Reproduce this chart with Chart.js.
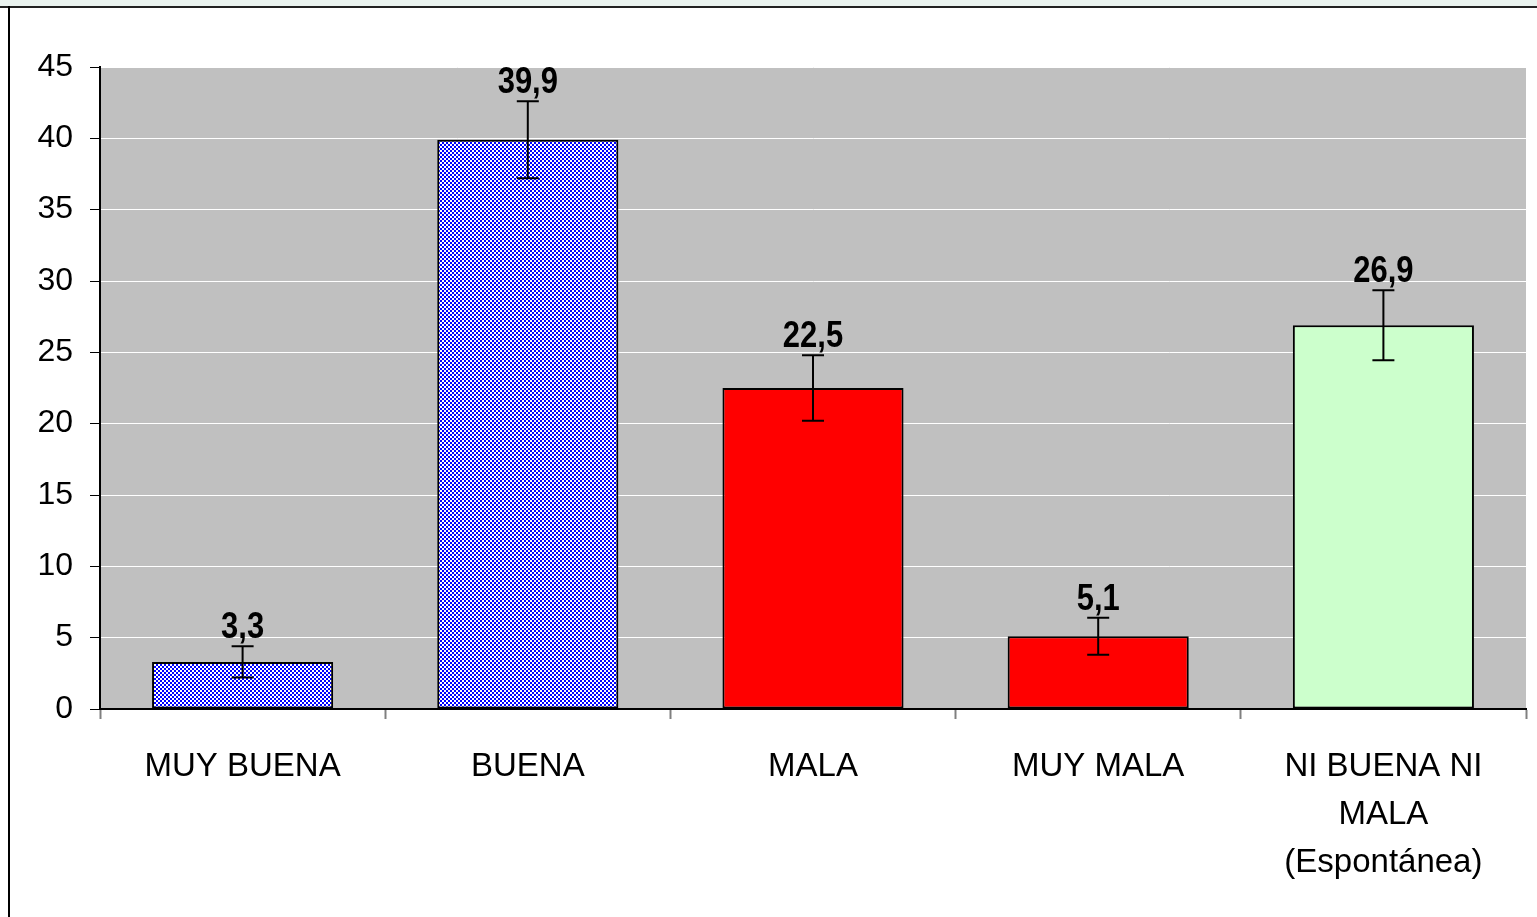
<!DOCTYPE html>
<html>
<head>
<meta charset="utf-8">
<script src="https://cdn.jsdelivr.net/npm/chart.js@4.4.0/dist/chart.umd.min.js"></script>
<style>
  body { margin: 0; background: #fff; }
  #wrap { position: absolute; left: 0; top: 0; width: 1537px; height: 917px; }
</style>
</head>
<body>
<div id="wrap"><canvas id="myChart1" width="1537" height="917"></canvas></div>
<script>
var categories = [['MUY BUENA'], ['BUENA'], ['MALA'], ['MUY MALA'], ['NI BUENA NI', 'MALA', '(Espontánea)']];
var values = [3.3, 39.9, 22.5, 5.1, 26.9];
var errors = [1.1, 2.7, 2.3, 1.3, 2.45];
var valueLabels = ['3,3', '39,9', '22,5', '5,1', '26,9'];
var yTicks = [0, 5, 10, 15, 20, 25, 30, 35, 40, 45];

// checker pattern for the blue bars
function checker() {
    var c = document.createElement('canvas');
    c.width = 4; c.height = 4;
    var g = c.getContext('2d');
    g.fillStyle = '#ffffff';
    g.fillRect(0, 0, 4, 4);
    g.fillStyle = '#0000ff';
    g.fillRect(0, 0, 2, 2);
    g.fillRect(2, 2, 2, 2);
    return document.getElementById('myChart1').getContext('2d').createPattern(c, 'repeat');
}
var blue = checker();
var colors = [blue, blue, '#ff0000', '#ff0000', '#ccffcc'];

var framePlugin = {
    id: 'frame',
    beforeDraw: function(chart) {
        var ctx = chart.ctx, a = chart.chartArea;
        ctx.save();
        ctx.fillStyle = '#eaf3ef';
        ctx.fillRect(0, 0, chart.width, 6);
        ctx.fillStyle = '#222';
        ctx.fillRect(0, 6, chart.width, 2);
        ctx.fillStyle = '#000';
        ctx.fillRect(8, 6, 2, chart.height);
        ctx.fillStyle = '#c0c0c0';
        ctx.fillRect(a.left, a.top, a.right - a.left, a.bottom - a.top);
        ctx.restore();
    }
};

var errorPlugin = {
    id: 'errbars',
    afterDatasetsDraw: function(chart) {
        var ctx = chart.ctx, x = chart.scales.x, y = chart.scales.y;
        ctx.save();
        ctx.strokeStyle = '#000';
        ctx.lineWidth = 2;
        values.forEach(function(v, i) {
            var px = x.getPixelForValue(i);
            var top = y.getPixelForValue(v + errors[i]);
            var bot = y.getPixelForValue(v - errors[i]);
            ctx.beginPath();
            ctx.moveTo(px, top); ctx.lineTo(px, bot);
            ctx.moveTo(px - 11, top); ctx.lineTo(px + 11, top);
            ctx.moveTo(px - 11, bot); ctx.lineTo(px + 11, bot);
            ctx.stroke();
        });
        ctx.fillStyle = '#000';
        ctx.font = 'bold 36px "Liberation Sans", Arial, sans-serif';
        ctx.textAlign = 'center';
        ctx.textBaseline = 'middle';
        values.forEach(function(v, i) {
            var px = x.getPixelForValue(i);
            var top = y.getPixelForValue(v + errors[i]);
            ctx.save();
            ctx.translate(px, top - 18);
            ctx.scale(0.86, 1);
            ctx.fillText(valueLabels[i], 0, 0);
            ctx.restore();
        });
        ctx.restore();
    }
};

var chart = new Chart("myChart1", {
    type: 'bar',
    data: {
        labels: categories,
        datasets: [{
            data: values,
            backgroundColor: colors,
            borderColor: '#000',
            borderWidth: 2,
            borderSkipped: false,
            barPercentage: 0.635,
            categoryPercentage: 1
        }]
    },
    options: {
        responsive: false,
        animation: false,
        layout: { padding: { left: 0, top: 67, right: 11, bottom: 0 } },
        plugins: { legend: { display: false }, tooltip: { enabled: false } },
        scales: {
            x: {
                grid: { offset: true, drawOnChartArea: false, tickLength: 10, tickColor: '#808080', tickWidth: 2 },
                border: { color: '#000', width: 2 },
                ticks: {
                    color: '#000',
                    padding: 24,
                    maxRotation: 0,
                    autoSkip: false,
                    font: { family: '"Liberation Sans", Arial, sans-serif', size: 33, lineHeight: 1.455 }
                },
                afterFit: function(s) { s.height = 208; }
            },
            y: {
                min: 0, max: 45,
                afterBuildTicks: function(s) { s.ticks = yTicks.map(function(v) { return { value: v }; }); },
                grid: { color: '#ffffff', lineWidth: 1, tickLength: 10, tickColor: '#000' },
                border: { color: '#000', width: 2 },
                ticks: {
                    color: '#000',
                    padding: 17,
                    font: { family: '"Liberation Sans", Arial, sans-serif', size: 32 }
                },
                afterFit: function(s) { s.width = 100; }
            }
        }
    },
    plugins: [framePlugin, errorPlugin]
});
</script>
</body>
</html>
